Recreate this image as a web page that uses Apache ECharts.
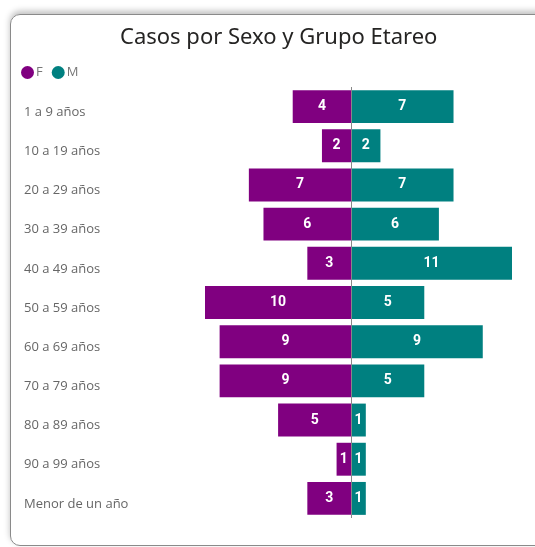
<!DOCTYPE html>
<html>
<head>
<meta charset="utf-8">
<script src="https://cdn.jsdelivr.net/npm/echarts@6/dist/echarts.min.js"></script>
<style>
  html, body { margin: 0; padding: 0; background: #fff; }
  #card {
    position: absolute; left: 10px; top: 14px; width: 545px; height: 530px;
    border: 1.5px solid #8a8a8a; border-radius: 10px;
    box-shadow: 0 -3px 6px rgba(0, 0, 0, 0.25);
  }
  #main { position: absolute; left: 0; top: 0; width: 535px; height: 547px; }
</style>
</head>
<body>
<div id="card"></div>
<div id="main"></div>
<script>
// grupos de edad (de arriba hacia abajo)
const categorias = ['1 a 9 años', '10 a 19 años', '20 a 29 años', '30 a 39 años', '40 a 49 años',
  '50 a 59 años', '60 a 69 años', '70 a 79 años', '80 a 89 años', '90 a 99 años', 'Menor de un año'];
const casosF = [4, 2, 7, 6, 3, 10, 9, 9, 5, 1, 3];
const casosM = [7, 2, 7, 6, 11, 5, 9, 5, 1, 1, 1];

const myChart = echarts.init(document.getElementById('main'));

const barLabel = {
  show: true,
  position: 'inside',
  color: '#fff',
  fontWeight: 'bold',
  fontSize: 14,
  fontFamily: 'Roboto',
  formatter: p => Math.abs(p.value)
};

myChart.setOption({
  animation: false,
  title: {
    text: 'Casos por Sexo y Grupo Etareo',
    left: 115,
    top: 22,
    textStyle: { color: '#252423', fontSize: 22, fontWeight: 'normal', fontFamily: 'Noto Sans' }
  },
  legend: {
    left: 21,
    top: 66,
    padding: 0,
    icon: 'circle',
    itemWidth: 13,
    itemHeight: 13,
    itemGap: 9,
    textStyle: { color: '#777', fontSize: 13, fontFamily: 'Open Sans', padding: [0, 0, 0, -3] },
    data: ['F', 'M']
  },
  grid: {
    left: 205,
    right: 23,
    top: 87,
    bottom: 29
  },
  xAxis: {
    type: 'value',
    min: -10,
    max: 11,
    show: false
  },
  yAxis: {
    type: 'category',
    inverse: true,
    data: categorias,
    axisLine: { show: false },
    axisTick: { show: false },
    axisLabel: {
      align: 'left',
      verticalAlign: 'top',
      lineHeight: 11,
      margin: 181,
      color: '#666',
      fontSize: 13,
      fontFamily: 'Open Sans'
    }
  },
  series: [
    {
      name: 'F',
      type: 'bar',
      barCategoryGap: '16%',
      barGap: '-100%',
      itemStyle: { color: '#800080' },
      label: barLabel,
      data: casosF.map(v => -v),
      markLine: {
        silent: true,
        symbol: 'none',
        label: { show: false },
        lineStyle: { color: '#888', width: 1, type: 'solid' },
        data: [{ xAxis: 0 }]
      }
    },
    {
      name: 'M',
      type: 'bar',
      barCategoryGap: '16%',
      barGap: '-100%',
      itemStyle: { color: '#008080' },
      label: barLabel,
      data: casosM
    }
  ]
});
</script>
</body>
</html>
